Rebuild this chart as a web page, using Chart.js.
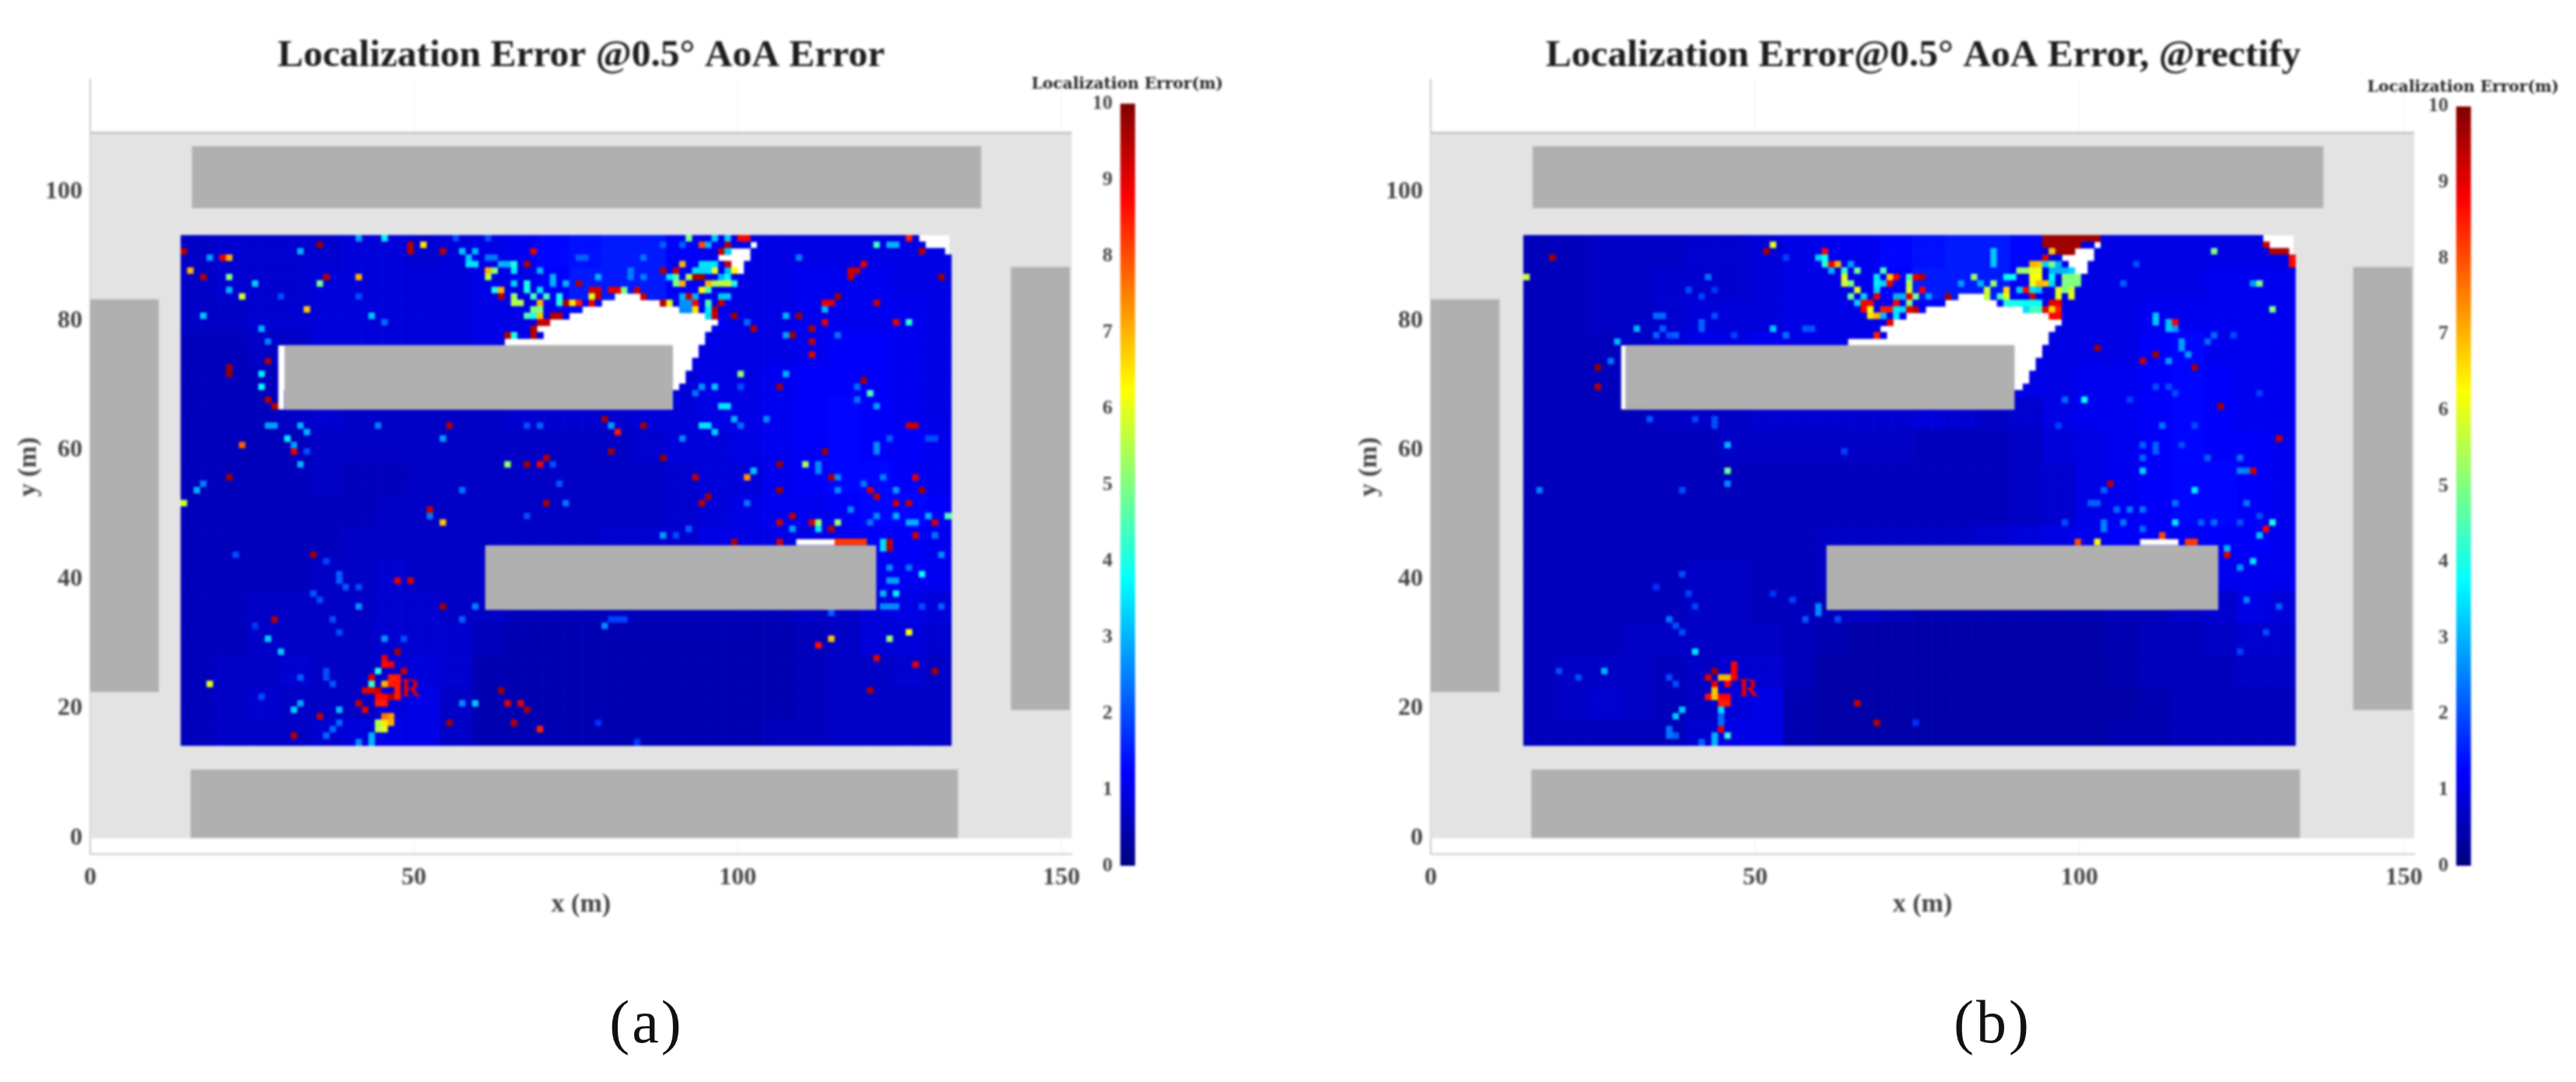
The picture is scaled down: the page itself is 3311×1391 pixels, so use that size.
<!DOCTYPE html>
<html>
<head>
<meta charset="utf-8">
<title>Localization Error</title>
<script src="https://cdn.jsdelivr.net/npm/chart.js@4/dist/chart.umd.js"></script>
<style>
  html, body { margin: 0; padding: 0; background: #fff; overflow: hidden; }
  body { width: 3311px; height: 1391px; position: relative; }
  canvas { position: absolute; top: 0; filter: blur(1.8px); }
  .caption { position: absolute; top: 1269px; font: 78px "Liberation Serif", serif; letter-spacing: 3px; color: #111; transform: translateX(-50%); filter: blur(0.6px); }
</style>
</head>
<body>
<canvas id="mapA" width="1494" height="1391" style="left:0"></canvas>
<canvas id="barA" width="280" height="1391" style="left:1309px"></canvas>
<canvas id="mapB" width="1498" height="1391" style="left:1723px"></canvas>
<canvas id="barB" width="280" height="1391" style="left:3026px"></canvas>
<div class="caption" style="left:831px">(a)</div>
<div class="caption" style="left:2561px">(b)</div>
<script>
// tick labels and text
const xTicks = [0, 50, 100, 150];
const yTicks = [0, 20, 40, 60, 80, 100];
const barTicks = [0, 1, 2, 3, 4, 5, 6, 7, 8, 9, 10];
const titleA = "Localization Error @0.5\u00b0 AoA Error";
const titleB = "Localization Error@0.5\u00b0 AoA Error, @rectify";

// floor and building outlines, metres: [x1, y1, x2, y2]
const floorArea = [0, 0, 151.6, 109.2];
const buildings = [
  [15.7, 97.5, 137.6, 107.1],
  [15.5, 0, 134, 10.6],
  [0, 22.6, 10.6, 83.4],
  [142.2, 19.8, 151.3, 88.4],
  [30, 66.3, 90, 76.3],
  [61, 35.3, 121.4, 45.3]
];

// heat map grid: 119 x 79 cells of 1 m, row 0 is at the top
const gridCols = 119;
const gridRows = 79;
const gridTop = 93.3;
const gridLeftA = 14.0;
const gridLeftB = 14.3;

// background error (m), read per 5 m block, top row first
const backgroundA = [
  [.7,.8,.8,.8,.8,.9,.9,.8,.9,1,1.1,1.3,1.4,1.5,1.5,1.2,1.1,1,1,1,1,1,1,1],
  [.7,.8,.8,.8,.9,.9,.9,.9,.9,1,1,1.2,1.5,1.5,1.5,1.2,1.1,1,1,1.1,1.1,1.1,1,1],
  [.7,.7,.8,.8,.9,.9,.9,.9,.9,1,1,1.1,1.2,1.2,1.3,1.1,1.1,1,1,1.1,1.1,1.1,1.1,1],
  [.6,.6,.7,.7,.9,.9,.9,.9,.9,1,1,1,1,1,1,1,1,1,1,1.1,1.2,1.2,1.1,1],
  [.6,.6,.6,.7,.8,.8,.8,.8,.8,.8,.8,.8,.8,.8,.9,.9,1,1,1.1,1.2,1.2,1.2,1.1,1],
  [.6,.6,.6,.7,.8,.7,.7,.7,.7,.7,.8,.8,.8,.8,.9,.9,1,1,1.1,1.2,1.3,1.2,1.1,1],
  [.6,.6,.6,.6,.7,.7,.7,.7,.7,.7,.7,.7,.7,.7,.8,.9,.9,1,1.1,1.2,1.3,1.2,1.2,1.1],
  [.6,.6,.6,.6,.7,.6,.6,.7,.7,.7,.7,.7,.7,.7,.7,.8,.9,.9,1.1,1.2,1.3,1.3,1.2,1.1],
  [.6,.6,.6,.6,.6,.6,.7,.7,.7,.7,.7,.7,.7,.7,.7,.8,.9,1,1.1,1.1,1.2,1.3,1.3,1.2],
  [.6,.6,.6,.6,.6,.7,.7,.7,.7,.7,.7,.7,.7,.8,.8,.8,1,1,1,1,1.1,1.2,1.2,1.1],
  [.6,.6,.6,.6,.7,.7,.8,.7,.7,.7,.7,.7,.7,.7,.7,.7,.8,.8,.9,1,1.1,1.1,1.1,1.1],
  [.6,.6,.7,.7,.7,.7,.8,.8,.7,.7,.6,.6,.6,.6,.6,.6,.6,.6,.6,.7,.7,.9,1,.9],
  [.6,.6,.7,.7,.7,.7,.8,.8,.8,.6,.5,.5,.5,.5,.5,.5,.5,.5,.5,.6,.7,.9,.9,.8],
  [.6,.7,.7,.8,.7,.7,.8,.9,.8,.5,.5,.5,.5,.5,.5,.5,.5,.5,.5,.6,.7,.7,.8,.7],
  [.6,.7,.8,.7,.7,.7,.9,1,.7,.5,.5,.5,.5,.5,.5,.5,.5,.5,.5,.6,.7,.7,.7,.7],
  [.6,.7,.7,.7,.8,.9,1,1,.7,.5,.5,.5,.5,.5,.5,.5,.5,.5,.6,.6,.7,.7,.7,.7]
];
const backgroundB = [
  [.6,.6,.7,.7,.7,.8,.8,.9,1,1.1,1.1,1.3,1.4,1.5,1.5,1.3,1,1,1,1,1,1,1,1],
  [.6,.6,.7,.7,.8,.8,.8,.9,1,1,1.1,1.2,1.5,1.5,1.5,1.2,1,1,1,1,1,1.1,1.1,1.1],
  [.6,.6,.7,.7,.8,.9,.9,.9,1,1,1,1.1,1.2,1.2,1.3,1.1,1,1,1,1.1,1.1,1.1,1.1,1.1],
  [.6,.6,.6,.7,.9,1,1,1.1,1,1,1,1,1,1,1,1,1,1,1,1.2,1.3,1.1,1.1,1.1],
  [.6,.6,.6,.7,.9,.9,.9,.9,.9,.9,.9,.9,.9,.9,1,1,1,1.1,1.1,1.2,1.3,1.2,1.1,1.1],
  [.6,.6,.6,.6,.7,.7,.7,.8,.8,.8,.8,.8,.9,.8,.7,.8,1,1.1,1.1,1.2,1.3,1.2,1.1,1.1],
  [.6,.6,.6,.6,.6,.6,.7,.7,.7,.7,.7,.7,.6,.6,.6,.7,.9,1,1.1,1.2,1.3,1.2,1.2,1.1],
  [.6,.6,.6,.6,.6,.6,.6,.6,.6,.6,.6,.6,.6,.6,.6,.7,.8,1,1.1,1.2,1.3,1.3,1.2,1.1],
  [.6,.6,.6,.6,.6,.6,.6,.6,.6,.6,.6,.6,.6,.6,.6,.7,.8,1,1.1,1.2,1.3,1.3,1.2,1.1],
  [.6,.6,.6,.6,.6,.6,.6,.6,.6,.7,.7,.7,.7,.7,.8,.9,1,1.1,1.2,1.2,1.2,1.2,1.2,1.1],
  [.6,.6,.6,.6,.6,.7,.7,.6,.6,.7,.7,.7,.7,.7,.8,.8,.8,.9,.9,1,1.1,1.1,1.1,1.1],
  [.6,.6,.6,.6,.6,.7,.7,.6,.6,.6,.7,.6,.5,.5,.5,.5,.5,.5,.6,.6,.7,.8,1,.9],
  [.6,.6,.6,.7,.7,.7,.7,.7,.6,.5,.4,.4,.4,.4,.4,.4,.4,.4,.5,.6,.6,.7,.8,.8],
  [.6,.7,.7,.7,.6,.7,.8,.8,.6,.4,.4,.4,.4,.4,.4,.4,.4,.4,.5,.6,.6,.6,.7,.7],
  [.6,.7,.8,.7,.6,.7,.9,1,.5,.4,.4,.4,.4,.4,.4,.4,.4,.4,.4,.5,.6,.6,.6,.6],
  [.6,.6,.6,.6,.6,.8,1,1,.5,.4,.4,.4,.4,.4,.4,.4,.4,.4,.5,.5,.6,.6,.6,.6]
];

// single cells with a clear colour: [col, row, error in m]
const hotCellsA = [
  [0,2,9.5],[4,3,2.8],[6,3,9],[7,3,7],[18,2,3],[21,1,9.8],[27,0,2.8],[31,0,3.6],[35,1,9.5],[35,2,9.5],[37,1,6.5],[40,2,9.5],
  [1,5,7],[3,6,9.5],[7,6,5],[7,8,3],[11,7,3.3],[9,9,5.8],[21,7,5],[22,6,9.5],[27,6,7],[15,9,2],[19,11,6.8],[27,9,2],
  [3,12,3.2],[29,12,3.2],[31,13,2.3],[12,14,3],[13,16,2.5],[13,19,9.5],[7,20,9.8],[7,21,9.8],[12,21,3.6],[12,23,3.8],[13,25,9.5],[14,26,9.5],
  [13,29,2.8],[14,29,2.8],[18,29,3],[19,30,3],[16,31,3.6],[17,32,2.8],[17,33,9],[19,33,2],[9,32,7.8],[18,35,3],[30,29,2.5],[41,29,9.5],[40,31,2.8],
  [53,29,2],[55,29,2.2],[50,35,5.2],[53,35,9.7],[55,35,8.8],[56,34,9.5],[57,35,2],[7,37,9.7],[3,38,2.5],[2,39,3],[43,39,2.4],[58,38,2.1],
  [43,2,3.2],[45,2,3],[44,3,3.2],[44,4,3.5],[45,4,3.5],[47,0,2],[42,0,2],[47,5,7],[47,6,5.5],[48,5,5],[47,3,2.4],[48,3,2.4],
  [49,4,3],[50,4,3],[51,4,4],[51,5,3.5],[53,4,9.5],[54,2,9],[55,5,3],[51,7,3.3],[53,7,4],[57,6,3],[57,7,3],[59,7,3],
  [48,8,4],[49,8,7],[49,9,9.5],[53,8,4],[55,8,3.5],[51,9,5.3],[54,9,4.5],[56,9,4.5],[58,9,4],[51,10,5.5],[52,10,5.5],[55,10,7],[58,10,4],[60,10,6.3],[59,10,9.5],
  [54,11,5],[55,11,5],[53,12,4.5],[54,12,4],[55,12,6.8],[57,12,9.5],[58,12,9.5],[55,13,9.3],[56,13,9.3],[54,14,9.5],[54,15,9.5],[50,15,9.5],[51,15,4],
  [78,0,5],[80,1,8],[81,1,3],[82,0,3.2],[84,0,3.2],[87,0,8.8],[86,0,8.8],[84,1,9.5],[83,2,9.3],[84,2,3.2],[77,4,7],[74,1,2.2],[77,1,2.2],
  [80,4,3.5],[81,4,3.5],[82,4,3.5],[79,5,3.5],[80,5,3.4],[81,5,3.4],[82,5,6],[85,5,6.3],[84,4,9.3],[84,5,3],[74,5,9.5],[76,5,9.3],
  [78,6,5.5],[79,6,9.7],[80,6,9.7],[76,6,4.5],[75,6,3.5],[84,6,3.7],[83,6,3],[76,7,5],[77,7,7],[81,7,7],[82,7,5.5],[83,7,5.5],[84,7,5.8],[85,7,4],
  [80,8,6.3],[81,8,4.5],[61,7,9.5],[64,6,3],[63,8,9.2],[64,8,9.2],[66,8,9],[67,8,9],[68,8,5],[70,8,9.3],[60,10,6.5],[61,10,8.5],[63,9,6],[63,10,9],[64,9,9.5],
  [71,9,9.3],[74,10,9.5],[75,10,6],[77,9,3],[79,9,3],[78,9,9.3],[84,9,3.2],[83,9,3.2],[77,10,2.7],[78,10,2.7],[79,10,8.8],[81,10,4.5],[77,11,2.6],[78,11,2.6],[79,11,6.5],
  [81,11,3.6],[82,11,9.5],[83,10,9.3],[81,12,3.4],[82,12,9.3],[69,5,2.5],[69,6,2.5],[71,6,2.5],[61,3,2.2],[62,3,2.2],[71,3,2.4],[95,3,2.5],
  [107,1,4.4],[109,1,3],[110,1,3],[112,0,8.5],[114,2,9.5],[105,4,9],[104,5,9.3],[103,5,9.3],[103,6,9.3],[117,6,9.7],[101,9,9.7],[99,10,9],[100,10,9],[107,10,9.3],
  [99,11,3],[93,12,3],[95,12,9.7],[85,12,9.7],[112,13,4.2],[110,13,9],[99,13,9],[97,14,9.5],[97,16,9.3],[97,18,9],[88,14,9.5],[87,13,2.3],[93,15,2.8],[94,15,9.7],[101,15,2.4],
  [86,21,5.2],[93,21,3],[80,23,2.7],[82,23,3.2],[86,23,2],[79,24,2.4],[92,23,9.7],[105,22,9.7],[106,24,4.5],[104,23,2.3],[104,25,2.4],[107,26,2.8],[83,26,3.5],[84,26,3.5],
  [85,28,3],[90,28,2.6],[86,29,2.3],[80,29,3.5],[81,29,3.5],[82,30,3.3],[77,31,2.6],[65,28,9.7],[66,29,2.8],[67,30,8.5],[71,29,9.7],[66,33,9.7],[74,34,9.8],
  [112,29,9.3],[113,29,9.3],[107,32,2.6],[107,33,2.6],[109,31,2.2],[115,31,2],[116,31,2],[99,33,9.8],[92,35,9.8],[96,35,5.3],[98,35,2.6],[98,36,2.6],[88,36,3.2],
  [87,37,7.3],[79,37,9.4],[100,37,9.6],[101,37,2.6],[108,37,2.5],[113,37,9],[105,38,2.4],[101,39,2.6],[106,39,9.2],[110,39,2.8],[114,39,9.7],[92,39,9.7],[81,40,9.6],
  [80,41,9.4],[87,41,2.4],[107,40,9.3],[110,41,9.3],[112,41,9.3],[94,43,9.5],[92,44,9.2],[98,44,5.2],[97,44,9.2],[101,44,5.3],[94,45,2.8],[98,45,3.5],[100,45,9.5],
  [103,42,2.6],[107,43,2.6],[106,44,2.4],[110,43,3],[115,43,3],[118,43,4.6],[112,44,3],[113,44,3],[116,44,9.2],[113,46,9.2],[116,46,2.4],[74,46,2.8],[78,45,2.2],[76,46,2],
  [85,47,9.6],[92,47,9.2],[101,47,8.2],[102,47,8.2],[103,47,8.2],[104,47,8.2],[105,47,8.2],[109,47,9.5],[109,48,9.5],[108,47,3.4],[108,48,3.4],[117,49,2.6],
  [109,51,2.6],[112,51,2.4],[114,52,3.8],[110,53,2.8],[109,53,2.8],[108,55,3],[110,55,3.6],[108,57,2.6],[109,57,2.6],[110,57,2.6],[117,57,2.2],[114,57,2],[100,58,2.2],
  [65,60,2.6],[66,59,1.9],[67,59,1.9],[68,59,1.9],[112,61,6.2],[109,62,5.2],[100,62,6.8],[98,63,8.6],[107,65,9],[113,66,9],[116,67,9.6],[106,70,9.6],[64,75,1.7],[70,78,1.8],
  [0,41,5.8],[38,42,9.3],[38,43,2.4],[40,44,6.8],[56,41,9.6],[59,41,2.4],[53,43,2],[8,49,2],[20,49,9.7],[22,50,1.9],[24,52,2.2],[24,53,2.2],[25,54,2.1],[27,54,2],
  [20,55,2.1],[21,56,2],[27,57,2.7],[23,59,2],[24,61,2],[33,53,9],[35,53,9.2],[40,57,9.7],[45,57,2.5],[43,59,2.2],[14,59,9.5],[11,60,1.8],[13,62,3.3],[15,64,3.2],
  [31,62,2.7],[34,62,2],[33,64,9.6],[31,65,9],[31,66,8.7],[32,66,8.8],[34,67,9.3],[30,67,4.2],[18,68,2.2],[22,67,2],[22,68,2],[23,69,2.1],[4,69,6],[29,68,9],
  [32,68,8.5],[33,68,8.5],[32,69,8.5],[33,69,8.5],[33,70,8.5],[33,71,8.5],[29,69,4.3],[31,69,7],[28,70,9],[29,70,9],[30,70,9.3],[30,71,8.7],[31,71,8.7],[30,72,8.5],[31,72,8.5],[32,71,9.4],
  [27,72,9.3],[28,73,9],[17,73,3.3],[18,72,2.9],[24,73,3.1],[12,71,2],[21,74,9.3],[24,75,2.3],[23,76,2.3],[22,77,2.3],[31,74,7.6],[32,74,7.2],[32,75,7],[31,75,6.5],
  [30,75,5.5],[30,76,5.5],[31,76,6],[17,77,9.5],[27,78,2.6],[29,77,3],[29,78,3],[43,72,2.6],[45,72,3.2],[50,72,9],[52,72,9],[53,73,9.6],[41,75,9.7],[51,75,9.5],[55,76,8.4],[49,70,9.7]
];
const hotCellsB = [
  [0,6,5.8],[4,3,9.7],[38,1,6],[37,2,9.7],[28,6,2.4],[25,8,2],[27,9,1.9],[29,8,1.8],[40,3,1.9],[20,12,2.3],[21,12,2.3],[17,14,3],[21,14,2.2],[27,13,2.2],[27,14,2.2],[29,12,2],
  [20,15,2.2],[23,15,2.2],[22,15,2],[32,15,1.9],[38,14,3.2],[40,15,2.4],[43,14,2.1],[44,14,2.1],[14,16,3],[13,19,2.4],[11,20,9.8],[11,23,9.5],[19,28,2.1],[26,28,1.9],[29,28,2],[29,29,2],
  [31,32,3],[31,36,4.8],[31,38,2.6],[49,33,1.9],[2,39,2.5],[24,39,2],
  [46,2,8.8],[45,3,3.3],[46,3,3.8],[46,4,4.2],[47,4,9],[48,4,7],[50,4,2.8],[47,5,3],[49,5,4.3],[51,5,4.8],[55,5,4.5],[49,6,6],[54,6,3.5],[56,6,6.8],[57,6,8.8],[59,6,4.5],
  [49,7,5.8],[50,7,5],[54,7,3.6],[55,7,3.3],[56,7,9],[59,7,5.5],[51,8,6],[54,8,3.3],[59,8,5.8],[50,9,4.8],[52,9,3.3],[54,9,9],[57,9,3],[58,9,3],[59,9,9],
  [51,10,3.3],[52,10,8.8],[53,10,8.8],[57,10,8.8],[59,10,5],[52,11,8.8],[53,11,6],[55,11,8.5],[56,11,8.5],[57,11,3.5],[58,11,3.4],[59,11,9],[53,12,6.5],[54,12,7],[55,12,3.1],[57,12,3.5],[56,13,9],[54,15,8.5],
  [80,0,9.7],[81,0,9.7],[82,0,9.7],[83,0,9.7],[84,0,9.7],[85,0,9.7],[86,0,9.7],[87,0,9.7],[88,0,9.7],
  [80,1,9.7],[81,1,9.7],[82,1,9.7],[83,1,9.7],[84,1,9.7],[85,1,9.7],[82,2,9.7],[83,2,9.7],[84,2,9.7],[81,2,6.8],
  [72,2,3.2],[72,3,3.2],[72,4,3.2],[80,3,9],[78,4,7],[79,4,6.8],[80,4,3.3],[81,4,5],[82,4,3],
  [76,5,5.3],[77,5,5.3],[78,5,6],[79,5,6],[81,5,3],[82,5,3],[83,5,3],[84,5,3.3],
  [69,6,5.2],[74,6,3.8],[75,6,3.8],[78,6,6.2],[79,6,6.2],[81,6,3.7],[83,6,5],[84,6,5],[85,6,5],
  [67,7,2.8],[70,7,3],[72,7,5.2],[78,7,6],[79,7,7],[80,7,6.8],[81,7,3.4],[83,7,5],[84,7,5],[85,7,5],
  [71,8,5.8],[74,8,6.6],[76,8,3.3],[77,8,8.7],[78,8,3.4],[79,8,3.2],[82,8,6],[83,8,5],[84,8,5.8],
  [71,9,5.6],[73,9,4.4],[74,9,6],[78,9,9.2],[82,9,6],[84,9,6],[74,10,4],[75,10,4],[76,10,4],[77,10,3.8],[78,10,3.8],[79,10,3.8],[81,10,9],[82,10,9],
  [77,11,3.4],[78,11,4.4],[79,11,4.4],[80,11,9],[81,11,6.6],[82,11,8.5],[81,12,8.7],[82,12,8.7],
  [60,6,9],[61,6,9.5],[61,8,8.8],[62,9,2.8],[60,9,5],[60,11,9.5],[65,9,9.7],
  [114,1,9.3],[115,2,9.5],[116,2,9.5],[117,2,9.5],[118,3,8.7],[118,4,8.7],[106,2,5],[94,4,2],[92,7,2.2],[113,7,5],[112,7,2.8],[115,11,5],
  [97,12,3.2],[97,13,3.2],[99,13,3.2],[99,14,3.2],[100,13,8.8],[100,14,2.8],[88,17,9.7],[97,18,9.7],[95,19,9.3],[101,16,2.8],[101,17,2.8],[102,18,2.8],[99,19,2.8],
  [106,15,2.3],[105,16,2.3],[109,15,2],[103,20,9.7],[86,25,3.8],[83,25,2.3],[93,25,1.9],[97,23,2],[99,23,2],[100,24,2],[107,26,9.7],[98,29,2.4],[103,29,2],[82,29,1.9],[113,24,1.9],
  [95,32,2.2],[97,32,2.2],[97,33,2.2],[101,32,2],[95,36,3.3],[95,34,2.3],[105,34,2.2],[110,34,2.4],[110,36,2.6],[111,36,2.5],[112,36,9.3],[116,31,9.3],[90,38,9.5],[103,39,3.6],[89,39,2.2],
  [87,41,2.2],[88,41,2.2],[91,42,2.3],[93,42,2.4],[95,42,2.4],[100,41,2.4],[100,44,3.5],[89,44,2.5],[89,45,2.5],[92,44,2.4],[83,44,2],[104,44,2.2],[106,44,2.3],[111,41,2.4],[113,43,2],
  [115,44,4],[114,45,8.8],[113,46,3.2],[110,44,2.1],[95,45,2.3],[98,46,8],[102,47,8.2],[103,47,8.2],[85,47,8],[88,47,6.3],[108,48,3],[108,49,9],[112,50,3.5],[110,51,2.7],[111,56,2.5],
  [116,57,2.2],[114,61,2],[110,64,1.9],[60,75,1.7],
  [24,52,2],[25,55,1.9],[26,57,1.9],[20,54,1.7],[22,59,2.4],[23,60,2],[24,61,2],[45,57,2.6],[45,58,2.6],[43,59,2.1],[48,59,2],[41,56,1.9],[38,55,1.7],[26,64,3.5],
  [5,67,2],[8,68,2],[12,67,3],[22,68,2],[23,69,2],[32,66,8.8],[32,67,8.8],[29,67,9.7],[30,68,7],[31,68,7],[28,68,9],[32,68,8.8],[29,69,9],[31,69,8.8],
  [29,70,6.8],[29,71,6.8],[28,71,8.6],[31,71,8.7],[30,71,8.7],[30,72,8.5],[31,72,8.5],[30,73,3.4],[24,73,3.2],[23,74,3.2],[30,74,2.3],[30,75,2.3],[30,76,9],
  [31,77,4.2],[29,77,3],[29,78,3],[27,78,2.2],[22,76,2.4],[22,77,2.4],[23,77,2.2],[51,72,9.3],[54,75,9.5]
];

// cells with no value (white in the map): [row, first col, last col]
const emptyRunsA = [
  [0,114,118],[1,115,118],[1,88,88],[2,118,118],[2,85,87],[3,83,87],[4,85,86],[5,86,86],[9,67,70],[10,65,73],[11,62,76],[12,60,80],[13,57,82],[14,55,81],[15,56,80],[16,50,80],
  [17,15,79],[18,15,79],[19,15,78],[20,15,78],[21,15,77],[22,15,77],[23,15,76],[24,15,15],[25,15,15],[26,15,15],[47,95,100]
];
const emptyRunsB = [
  [0,114,118],[1,115,118],[1,88,88],[2,118,118],[2,85,87],[3,83,87],[4,84,86],[5,85,86],[9,67,70],[10,65,72],[11,62,76],[12,59,80],[13,57,82],[14,55,81],[15,56,80],[16,50,80],
  [17,15,79],[18,15,79],[19,15,78],[20,15,78],[21,15,77],[22,15,77],[23,15,76],[24,15,15],[25,15,15],[26,15,15],[47,95,100]
];

// MATLAB jet colormap, 0..10 m
function jet(v) {
    const t = Math.min(1, Math.max(0, v / 10));
    const c = (x) => Math.round(255 * Math.min(1, Math.max(0, x)));
    return `rgb(${c(Math.min(4 * t - 1.5, -4 * t + 4.5))},${c(Math.min(4 * t - 0.5, -4 * t + 3.5))},${c(Math.min(4 * t + 0.5, -4 * t + 2.5))})`;
}

// one point per grid cell, background first, then the single cells on top
function buildCells(background, hotCells, emptyRuns, gridLeft) {
    const hot = new Map(hotCells.map(([c, r, v]) => [r * 1000 + c, v]));
    const empty = new Set();
    emptyRuns.forEach(([r, from, to]) => {
        for (let c = from; c <= to; c++) empty.add(r * 1000 + c);
    });
    const points = [];
    const colors = [];
    for (let r = 0; r < gridRows; r++) {
        for (let c = 0; c < gridCols; c++) {
            const key = r * 1000 + c;
            if (empty.has(key)) continue;
            const block = background[Math.floor(r / 5)][Math.floor(c / 5)];
            points.push({ x: gridLeft + c + 0.5, y: gridTop - r - 0.5 });
            colors.push(jet(hot.has(key) ? hot.get(key) : block));
        }
    }
    return { points, colors };
}

// floor goes under the cells, the buildings and the R marker over them
const floorPlan = {
    id: "floorPlan",
    beforeDatasetsDraw(chart, args, opts) {
        const { x, y } = chart.scales;
        const g = chart.ctx;
        g.save();
        g.fillStyle = "#e3e3e3";
        g.fillRect(x.getPixelForValue(floorArea[0]), y.getPixelForValue(floorArea[3]),
            x.getPixelForValue(floorArea[2]) - x.getPixelForValue(floorArea[0]),
            y.getPixelForValue(floorArea[1]) - y.getPixelForValue(floorArea[3]));
        g.fillStyle = "#b5b5b5";
        g.fillRect(x.getPixelForValue(floorArea[0]), y.getPixelForValue(floorArea[3]) - 1,
            x.getPixelForValue(floorArea[2]) - x.getPixelForValue(floorArea[0]), 2);
        g.fillStyle = "#fff";
        g.fillRect(x.getPixelForValue(opts.gridLeft), y.getPixelForValue(gridTop),
            x.getPixelForValue(opts.gridLeft + gridCols - 0.3) - x.getPixelForValue(opts.gridLeft),
            y.getPixelForValue(gridTop - gridRows) - y.getPixelForValue(gridTop));
        g.restore();
    },
    afterDatasetsDraw(chart, args, opts) {
        const { x, y } = chart.scales;
        const g = chart.ctx;
        g.save();
        g.fillStyle = "#b0b0b0";
        buildings.forEach(([x1, y1, x2, y2]) => {
            g.fillRect(x.getPixelForValue(x1), y.getPixelForValue(y2),
                x.getPixelForValue(x2) - x.getPixelForValue(x1),
                y.getPixelForValue(y1) - y.getPixelForValue(y2));
        });
        g.fillStyle = "#e00000";
        g.font = "bold 34px 'Liberation Serif'";
        g.textAlign = "center";
        g.textBaseline = "middle";
        g.fillText("R", x.getPixelForValue(opts.markerX), y.getPixelForValue(23));
        g.restore();
    }
};

// empty axis on the right keeps the title centred over the whole canvas
function spacerAxis(width) {
    return {
        position: "right",
        display: true,
        afterFit: (s) => { s.width = width; },
        grid: { display: false, drawTicks: false },
        border: { display: false },
        ticks: { display: false }
    };
}

function drawMap(canvasId, title, background, hotCells, emptyRuns, gridLeft, markerX, rightPad) {
    const cells = buildCells(background, hotCells, emptyRuns, gridLeft);
    new Chart(document.getElementById(canvasId), {
        type: "scatter",
        data: {
            datasets: [{
                data: cells.points,
                pointStyle: "rect",
                pointBackgroundColor: cells.colors,
                pointBorderWidth: 0,
                pointRadius: (ctx) => ctx.chart.scales.x.width / 151.6 / Math.SQRT2 * 1.08,
                pointHoverRadius: 0
            }]
        },
        options: {
            responsive: false,
            animation: false,
            events: [],
            clip: false,
            layout: { padding: { left: 0, top: 0, right: 0, bottom: 207 } },
            plugins: {
                legend: { display: false },
                tooltip: { enabled: false },
                floorPlan: { gridLeft, markerX },
                title: {
                    display: true,
                    text: title,
                    color: "#1c1c1c",
                    font: { family: "'Liberation Serif'", size: 49.5, weight: "bold", lineHeight: 1.1 },
                    padding: { top: 45, bottom: 3 }
                }
            },
            scales: {
                x: {
                    type: "linear",
                    min: 0,
                    max: 151.6,
                    afterBuildTicks: (s) => { s.ticks = xTicks.map((value) => ({ value })); },
                    afterFit: (s) => { s.height = 86; },
                    grid: { color: "#f0f0f0", drawTicks: false },
                    border: { color: "#c8c8c8", width: 2 },
                    ticks: { color: "#444", padding: 12, maxRotation: 0, font: { family: "'Liberation Serif'", size: 32, weight: "bold" } },
                    title: { display: true, text: "x (m)", color: "#444", padding: 0, font: { family: "'Liberation Serif'", size: 34, weight: "bold" } }
                },
                y: {
                    type: "linear",
                    min: -2.5,
                    max: 117.4,
                    afterBuildTicks: (s) => { s.ticks = yTicks.map((value) => ({ value })); },
                    afterFit: (s) => { s.width = 116; },
                    grid: { color: "#f0f0f0", drawTicks: false },
                    border: { color: "#c8c8c8", width: 2 },
                    ticks: { color: "#444", padding: 10, font: { family: "'Liberation Serif'", size: 32, weight: "bold" } },
                    title: { display: true, text: "y (m)", color: "#444", padding: { top: 17, bottom: 0 }, font: { family: "'Liberation Serif'", size: 34, weight: "bold" } }
                },
                spacer: spacerAxis(rightPad)
            }
        },
        plugins: [floorPlan]
    });
}

function drawColorbar(canvasId, titleTop) {
    new Chart(document.getElementById(canvasId), {
        type: "bar",
        data: {
            labels: [""],
            datasets: [{
                data: [[0, 10]],
                barPercentage: 1,
                categoryPercentage: 1,
                backgroundColor: (ctx) => {
                    const area = ctx.chart.chartArea;
                    if (!area) return "#00f";
                    const grad = ctx.chart.ctx.createLinearGradient(0, area.bottom, 0, area.top);
                    for (let i = 0; i <= 40; i++) grad.addColorStop(i / 40, jet(i / 4));
                    return grad;
                }
            }]
        },
        options: {
            responsive: false,
            animation: false,
            events: [],
            layout: { padding: { left: 0, top: 0, right: 0, bottom: 278 } },
            plugins: {
                legend: { display: false },
                tooltip: { enabled: false },
                title: {
                    display: true,
                    text: "Localization Error(m)",
                    color: "#222",
                    font: { family: "'DejaVu Serif'", size: 20.2, weight: "bold", lineHeight: 1.2 },
                    padding: { top: titleTop, bottom: 12 }
                }
            },
            scales: {
                x: { display: false },
                y: {
                    min: 0,
                    max: 10,
                    afterBuildTicks: (s) => { s.ticks = barTicks.map((value) => ({ value })); },
                    afterFit: (s) => { s.width = 131; },
                    grid: { display: false, drawTicks: false },
                    border: { display: false },
                    ticks: { color: "#444", padding: 10, font: { family: "'Liberation Serif'", size: 26, weight: "bold" } }
                },
                spacer: spacerAxis(130)
            }
        }
    });
}

document.addEventListener("DOMContentLoaded", function() {
    drawMap("mapA", titleA, backgroundA, hotCellsA, emptyRunsA, gridLeftA, 49.5, 116.4);
    drawMap("mapB", titleB, backgroundB, hotCellsB, emptyRunsB, gridLeftB, 49, 118);
    drawColorbar("barA", 97);
    drawColorbar("barB", 100.5);
});
</script>
</body>
</html>
